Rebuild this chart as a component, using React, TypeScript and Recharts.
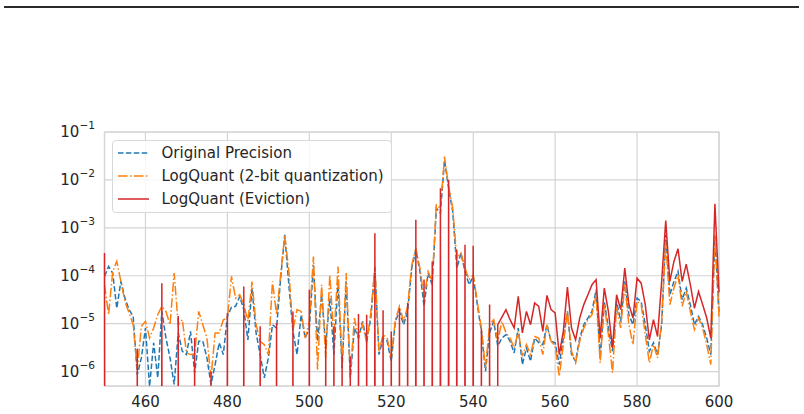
import React from "react";
import {
  LineChart,
  Line,
  XAxis,
  YAxis,
  CartesianGrid,
  Legend,
  ReferenceArea,
} from "recharts";

// token positions 450..600, one value per position
const firstPos = 450;

const originalPrecision = [
  9.7e-5, 1.56e-4, 1.14e-4, 2.1e-5, 7.6e-5, 3.4e-5, 1.96e-5, 1.42e-5, 8.6e-7, 1.93e-6,
  8.1e-6, 4.9e-7, 4.0e-6, 7.4e-7, 1.8e-5, 5.0e-6, 1.93e-6, 5.4e-7, 6.4e-6, 2.65e-6,
  2.26e-6, 6.9e-6, 9.4e-7, 4.3e-6, 4.3e-6, 1.93e-6, 5.4e-7, 1.4e-6, 4.0e-6, 2.26e-6,
  1.42e-5, 2.2e-5, 2.3e-5, 3.7e-5, 1.96e-5, 4.6e-6, 5.5e-5, 6.4e-6, 2.26e-6, 7.4e-7,
  1.93e-6, 9.5e-6, 8.1e-6, 8.9e-5, 7.15e-4, 6.5e-5, 6.9e-6, 2.26e-6, 1.54e-5, 5.0e-6,
  8.1e-6, 1.69e-4, 4.3e-6, 4.0e-5, 3.65e-6, 3.4e-5, 2.26e-6, 7.6e-5, 1.19e-6, 7.6e-5,
  7.4e-7, 8.1e-6, 5.0e-6, 1.12e-5, 4.3e-6, 1.31e-5, 1.44e-4, 2.26e-6, 5.0e-6, 4.3e-6,
  1.64e-6, 1.12e-5, 1.8e-5, 9.5e-6, 1.8e-5, 1.44e-4, 3.48e-4, 1.23e-4, 2.3e-5, 1.14e-4,
  6.5e-5, 2.57e-3, 2.02e-3, 2.61e-2, 6.7e-3, 2.19e-3, 1.44e-4, 2.97e-4, 1.23e-4, 6.5e-5,
  9.7e-5, 2.5e-5, 6.9e-6, 1.02e-6, 6.4e-6, 1.12e-5, 3.4e-6, 5.0e-6, 5.9e-6, 4.3e-6,
  2.45e-6, 8.1e-6, 1.4e-6, 3.1e-6, 1.64e-6, 5.0e-6, 4.0e-6, 3.65e-6, 9.5e-6, 4.3e-6,
  4.0e-6, 1.4e-6, 5.0e-6, 1.8e-5, 2.26e-6, 1.64e-6, 5.0e-6, 9.5e-6, 1.31e-5, 1.8e-5,
  5.1e-5, 1.93e-6, 2.9e-5, 8.1e-6, 2.65e-6, 2.9e-5, 1.12e-5, 7.6e-5, 1.54e-5, 9.5e-6,
  3.4e-5, 2.9e-5, 9.5e-6, 2.65e-6, 4.0e-6, 2.26e-6, 9.5e-6, 7.15e-4, 4.0e-5, 7.6e-5,
  1.23e-4, 3.16e-5, 5.5e-5, 2.5e-5, 9.5e-6, 1.42e-5, 9.5e-6, 5.0e-6, 2.26e-6, 6.5e-4,
  1.6e-5,
];

const quant2bit = [
  6.5e-5, 1.54e-5, 1.23e-4, 1.99e-4, 7.6e-5, 2.9e-5, 1.67e-5, 9.5e-6, 1.1e-6, 8.8e-6,
  1.12e-5, 5.0e-6, 8.1e-6, 1.54e-5, 2.3e-5, 1.8e-5, 9.5e-6, 1.14e-4, 9.5e-6, 1.21e-5,
  2.45e-6, 2.26e-6, 2.26e-6, 1.8e-5, 9.5e-6, 5.0e-6, 7.4e-7, 6.4e-6, 6.4e-6, 1.21e-5,
  1.31e-5, 9.7e-5, 3.4e-5, 4.0e-5, 2.5e-5, 1.12e-5, 7.6e-5, 9.5e-6, 4.3e-6, 3.65e-6,
  2.26e-6, 7.6e-5, 1.54e-5, 1.05e-4, 7.15e-4, 1.23e-4, 7.5e-6, 1.96e-5, 1.8e-5, 5.0e-6,
  1.12e-5, 2.53e-4, 1.1e-6, 6.5e-5, 1.93e-6, 1.05e-4, 5.0e-6, 1.56e-4, 1.4e-6, 1.14e-4,
  8.6e-7, 1.31e-5, 5.0e-6, 9.5e-6, 4.0e-6, 1.67e-5, 1.56e-4, 2.65e-6, 5.9e-6, 5.0e-6,
  1.93e-6, 1.21e-5, 2.3e-5, 1.12e-5, 2.3e-5, 1.69e-4, 3.7e-4, 1.44e-4, 3.4e-5, 1.23e-4,
  7.6e-5, 3.0e-3, 2.57e-3, 3.06e-2, 7.26e-3, 2.57e-3, 2.33e-4, 2.97e-4, 1.44e-4, 8.3e-5,
  1.05e-4, 2.9e-5, 8.1e-6, 1.19e-6, 9.5e-6, 1.21e-5, 4.3e-6, 1.12e-5, 6.4e-6, 5.0e-6,
  3.1e-6, 6.9e-6, 2.09e-6, 3.65e-6, 2.26e-6, 5.4e-6, 5.0e-6, 2.26e-6, 9.5e-6, 4.3e-6,
  3.4e-6, 8.0e-7, 3.65e-6, 1.8e-5, 2.65e-6, 1.52e-6, 4.3e-6, 8.1e-6, 1.21e-5, 1.54e-5,
  4.0e-5, 1.52e-6, 2.5e-5, 5.9e-6, 9.4e-7, 2.3e-5, 8.1e-6, 6.5e-5, 9.5e-6, 3.65e-6,
  2.9e-5, 2.5e-5, 5.9e-6, 1.52e-6, 3.65e-6, 1.93e-6, 1.12e-5, 5.19e-4, 2.5e-5, 5.5e-5,
  1.05e-4, 2.3e-5, 4.7e-5, 1.8e-5, 7.5e-6, 1.31e-5, 8.1e-6, 3.65e-6, 1.4e-6, 7.2e-4,
  1.4e-5,
];

// 0 = token evicted
const eviction = [
  2.97e-4, 0, 0, 0, 0, 0, 0, 0, 3.0e-6, 0,
  0, 0, 0, 0, 7.0e-5, 0, 0, 0, 1.45e-5, 0,
  0, 0, 5.0e-6, 0, 0, 0, 1.02e-6, 0, 0, 0,
  1.67e-5, 0, 0, 0, 6.0e-5, 0, 0, 0, 8.8e-6, 0,
  0, 0, 1.03e-5, 0, 0, 0, 1.8e-5, 0, 0, 0,
  5.1e-5, 0, 0, 0, 5.0e-6, 0, 8.8e-6, 0, 2.26e-6, 0,
  2.09e-6, 0, 1.6e-5, 0, 1.54e-5, 0, 7.74e-4, 0, 1.9e-5, 0,
  6.9e-6, 0, 2.1e-5, 0, 2.7e-5, 0, 1.47e-3, 0, 8.3e-5, 0,
  1.99e-4, 0, 6.7e-3, 0, 1.0e-2, 0, 3.48e-4, 0, 4.43e-4, 0,
  4.22e-4, 0, 7.8e-6, 0, 2.5e-5, 0, 9.5e-6, 1.37e-5, 1.96e-5, 1.21e-5,
  8.1e-6, 3.7e-5, 6.4e-6, 1.8e-5, 9.5e-6, 2.7e-5, 2.3e-5, 6.9e-6, 3.9e-5, 1.96e-5,
  1.67e-5, 2.26e-6, 6.9e-6, 5.8e-5, 8.1e-6, 4.6e-6, 1.31e-5, 2.5e-5, 4.0e-5, 6.5e-5,
  8.3e-5, 5.0e-6, 5.5e-5, 1.8e-5, 3.1e-6, 4.0e-5, 1.96e-5, 1.44e-4, 2.5e-5, 1.31e-5,
  8.9e-5, 7.0e-5, 2.5e-5, 4.6e-6, 1.21e-5, 5.4e-6, 7.6e-5, 1.42e-3, 7.6e-5, 1.99e-4,
  3.65e-4, 7.6e-5, 1.75e-4, 6.5e-5, 2.1e-5, 4.7e-5, 2.5e-5, 1.31e-5, 5.0e-6, 3.16e-3,
  4.5e-5,
];

const xTicks = [460, 480, 500, 520, 540, 560, 580, 600];
const yTicks = [1e-6, 1e-5, 1e-4, 1e-3, 1e-2, 1e-1];

// like matplotlib's log clipping: evicted tokens drop far below the axis
const LOG_FLOOR = 1e-100;

const data = originalPrecision.map((v, i) => ({
  pos: firstPos + i,
  orig: v,
  quant: quant2bit[i],
  evict: eviction[i] > 0 ? eviction[i] : LOG_FLOOR,
}));

const FONT = "DejaVu Sans, sans-serif";
const TEXT = "#262626";
const GRID = "#d4d4d4";
const FS = 15;

const series = [
  { key: "orig", label: "Original Precision", color: "#1f77b4", dash: "5.5 2.4" },
  { key: "quant", label: "LogQuant (2-bit quantization)", color: "#ff7f0e", dash: "9.6 2.4 1.5 2.4" },
  { key: "evict", label: "LogQuant (Eviction)", color: "#d62728", dash: undefined },
];

const PowerTick = (props: any) => {
  const { x, y, payload } = props;
  const exp = Math.round(Math.log10(payload.value));
  return (
    <text x={x} y={y} textAnchor="end" fill={TEXT} fontSize={FS} fontFamily={FONT}>
      <tspan dy="0.36em">10</tspan>
      <tspan dy={-8} fontSize={10.6}>{"\u2212" + Math.abs(exp)}</tspan>
    </text>
  );
};

const LegendBox = () => (
  <div
    style={{
      border: "1px solid #d9d9d9",
      borderRadius: 4,
      background: "rgba(255,255,255,0.8)",
      padding: "0 7px 2px 5px",
      fontFamily: FONT,
      fontSize: FS,
      color: TEXT,
      whiteSpace: "nowrap",
    }}
  >
    {series.map((s) => (
      <div key={s.key} style={{ display: "flex", alignItems: "center", height: 23 }}>
        <svg width={31} height={4}>
          <line x1={0} y1={2} x2={31} y2={2} stroke={s.color} strokeWidth={1.5} strokeDasharray={s.dash} />
        </svg>
        <span style={{ marginLeft: 12.5 }}>{s.label}</span>
      </div>
    ))}
  </div>
);

export default function App() {
  return (
    <div style={{ position: "absolute", left: 0, top: 0, width: 804, height: 414, background: "#fff" }}>
      <div style={{ position: "absolute", left: 4, top: 6, width: 795, height: 1.5, background: "#2b2b2b" }} />
      <LineChart
        width={804}
        height={414}
        data={data}
        margin={{ top: 132, right: 85, bottom: 0, left: 44.5 }}
        style={{ fontFamily: FONT }}
      >
        <CartesianGrid stroke={GRID} strokeWidth={1.2} />
        <XAxis
          dataKey="pos"
          type="number"
          domain={[450, 600]}
          ticks={xTicks}
          height={28}
          axisLine={false}
          tickLine={false}
          tickSize={8}
          tickMargin={2.2}
          tick={{ fill: TEXT, fontSize: FS, fontFamily: FONT }}
        />
        <YAxis
          scale="log"
          type="number"
          domain={[5e-7, 0.1]}
          allowDataOverflow
          ticks={yTicks}
          width={60}
          axisLine={false}
          tickLine={false}
          tickSize={8}
          tickMargin={1.5}
          tick={<PowerTick />}
        />
        <ReferenceArea x1={450} x2={600} y1={5e-7} y2={0.1} fill="none" stroke={GRID} strokeWidth={1.25} />
        {series.map((s) => (
          <Line
            key={s.key}
            dataKey={s.key}
            type="linear"
            stroke={s.color}
            strokeWidth={1.5}
            strokeDasharray={s.dash}
            dot={false}
            activeDot={false}
            isAnimationActive={false}
          />
        ))}
        <Legend
          layout="vertical"
          align="center"
          verticalAlign="middle"
          content={<LegendBox />}
          wrapperStyle={{ left: 112, top: 140, width: "auto", height: "auto" }}
        />
      </LineChart>
    </div>
  );
}
